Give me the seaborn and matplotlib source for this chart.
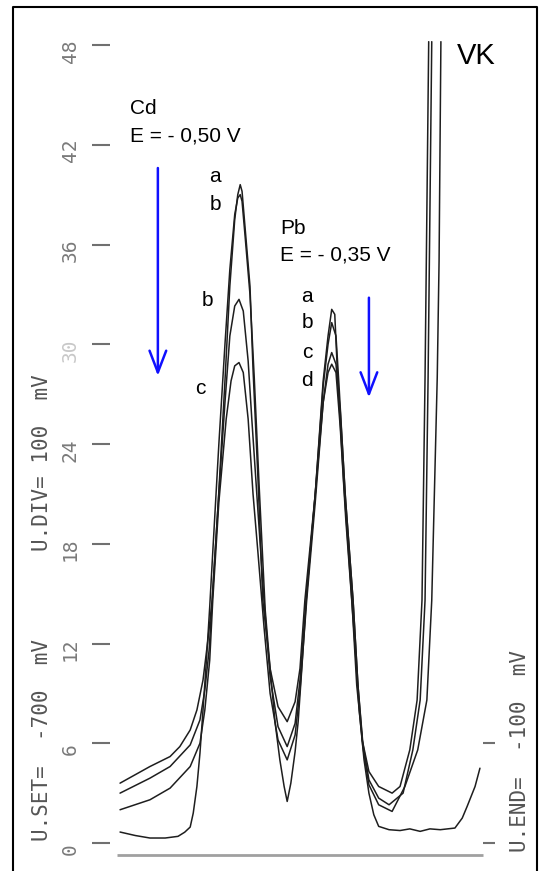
import matplotlib
matplotlib.use("Agg")
import matplotlib.pyplot as plt
from matplotlib.lines import Line2D
import pandas as pd
import seaborn as sns

sns.set_theme(style="white")
plt.rcParams["font.family"] = ["Liberation Sans", "DejaVu Sans"]

# potential in mV, current in scale divisions
curve_a_e = [-695, -646, -613, -597, -580, -569, -559, -551, -544, -534, -523, -515, -507, -502,
             -498, -495, -490, -482, -477, -469, -461, -449, -436, -421, -408, -400, -392, -375,
             -362, -354, -348, -343, -338, -328, -315, -307, -298, -287, -271, -249, -236, -220,
             -208, -200, -195, -192, -189]
curve_a_i = [3.6, 4.6, 5.2, 5.8, 6.8, 8.0, 9.8, 12.2, 14.6, 20.5, 27.8, 33.5, 37.5, 39.0,
             39.6, 39.2, 37.0, 33.5, 28.5, 22.0, 14.6, 10.5, 8.2, 7.3, 8.5, 10.5, 14.6, 21.0,
             27.8, 30.5, 32.1, 31.8, 27.8, 21.5, 14.6, 9.5, 6.2, 4.3, 3.4, 3.0, 3.4, 5.6,
             8.6, 14.6, 28.0, 38.0, 48.2]

curve_b_e = [-695, -646, -613, -580, -564, -556, -549, -544, -534, -523, -515, -507, -500, -493,
             -485, -479, -469, -459, -449, -436, -421, -408, -400, -390, -375, -362, -354, -348,
             -341, -336, -326, -313, -305, -297, -287, -271, -254, -231, -215, -203, -195, -190,
             -187, -184]
curve_b_i = [3.0, 3.9, 4.6, 5.9, 7.4, 9.2, 11.6, 14.6, 20.5, 26.5, 30.5, 32.3, 32.7, 32.0,
             29.0, 25.5, 20.0, 14.6, 10.0, 7.0, 5.8, 7.2, 9.8, 14.6, 21.0, 27.5, 30.0, 31.3,
             30.5, 27.5, 21.0, 14.6, 9.5, 6.0, 3.8, 2.7, 2.3, 3.0, 5.6, 8.6, 14.6, 28.0,
             38.0, 48.2]

curve_c_e = [-695, -646, -613, -580, -564, -556, -548, -543, -533, -521, -513, -507, -500, -493,
             -485, -477, -469, -459, -449, -436, -421, -408, -400, -389, -375, -362, -354, -348,
             -341, -334, -325, -313, -305, -297, -287, -271, -249, -228, -207, -192, -184, -175,
             -172, -169]
curve_c_i = [2.0, 2.6, 3.3, 4.6, 6.0, 8.0, 11.0, 14.6, 20.5, 25.5, 27.8, 28.7, 28.9, 28.3,
             25.5, 21.0, 17.5, 13.0, 9.0, 6.2, 5.0, 6.5, 9.2, 14.6, 20.5, 26.5, 28.8, 29.5,
             28.8, 26.0, 20.5, 14.6, 9.5, 5.8, 3.5, 2.3, 1.9, 3.4, 5.6, 8.6, 14.6, 28.0,
             35.0, 48.2]

curve_d_e = [-695, -670, -646, -621, -600, -589, -580, -575, -569, -564, -559, -553, -548, -543,
             -533, -523, -515, -507, -502, -498, -495, -490, -482, -475, -467, -457, -449, -441,
             -433, -426, -421, -415, -408, -403, -397, -389, -375, -362, -354, -348, -341, -334,
             -325, -311, -303, -295, -287, -279, -271, -254, -236, -220, -203, -187, -170, -146,
             -134, -126, -113, -105]
curve_d_i = [0.66, 0.45, 0.3, 0.3, 0.4, 0.65, 0.96, 1.8, 3.4, 5.4, 8.0, 11.2, 14.2, 17.5,
             24.0, 30.0, 34.5, 37.8, 38.8, 39.0, 38.6, 36.5, 33.0, 28.0, 21.5, 14.0, 10.5, 7.3,
             5.0, 3.4, 2.5, 3.6, 5.5, 7.3, 10.5, 15.0, 21.0, 26.5, 28.3, 28.8, 28.3, 25.0,
             19.5, 12.5, 8.0, 5.0, 3.0, 1.7, 1.0, 0.8, 0.75, 0.85, 0.7, 0.85, 0.8, 0.9,
             1.5, 2.2, 3.4, 4.5]

y_ticks = [0, 6, 12, 18, 24, 30, 36, 42, 48]
right_ticks = [0, 6]

frames = []
for name, e, i in [("a", curve_a_e, curve_a_i), ("b", curve_b_e, curve_b_i),
                   ("c", curve_c_e, curve_c_i), ("d", curve_d_e, curve_d_i)]:
    frames.append(pd.DataFrame({"E": e, "I": i, "curve": name}))
df = pd.concat(frames, ignore_index=True)

W, H = 541, 871
fig = plt.figure(figsize=(W / 100, H / 100), dpi=100)
ax = fig.add_axes([0, 0, 1, 1])
ax.set_xlim(-891.8, -4.9)
ax.set_ylim(-1.684, 50.707)
ax.axis("off")


def px(x, y):
    return x / W, 1 - y / H


sns.lineplot(data=df, x="E", y="I", hue="curve", units="curve", estimator=None, sort=False,
             palette=["#1e1e1e"] * 4, linewidth=1.1, legend=False, ax=ax)

# frame (no bottom edge visible)
fig.add_artist(Line2D([13 / W, 13 / W, 537 / W, 537 / W],
                      [1 - 871 / H, 1 - 7 / H, 1 - 7 / H, 1 - 871 / H],
                      color="black", lw=1.5))

# base line
ax.hlines(-0.72, -700, -100, color="#a0a0a0", lw=2)

# left scale
for v in y_ticks:
    ax.hlines(v, -741, -711, color="#707070", lw=1.5)
    col = "#c8c8c8" if v == 30 else "#7a7a7a"
    ax.text(-777, v - 0.36, str(v), rotation=90, ha="center", va="center",
            family="DejaVu Sans Mono", fontsize=14, color=col)
for v in right_ticks:
    ax.hlines(v, -100, -80, color="#707070", lw=1.5)

mono = dict(family="DejaVu Sans Mono", fontsize=15, color="#555555",
            rotation=90, ha="center", va="center")
fig.text(*px(42, 740), "U.SET=  -700  mV", **mono)
fig.text(*px(42, 463), "U.DIV= 100  mV", **mono)
fig.text(*px(520, 751), "U.END=  -100  mV", **mono)

txt = dict(fontsize=15, color="black", va="center")
fig.text(*px(130, 108), "Cd", ha="left", **txt)
fig.text(*px(130, 136), "E = - 0,50 V", ha="left", **txt)
fig.text(*px(280, 228), "Pb", ha="left", **txt)
fig.text(*px(280, 255), "E = - 0,35 V", ha="left", **txt)
fig.text(*px(457, 56), "VK", ha="left", fontsize=21, color="black", va="center")

for lab, x, y in [("a", 215, 177), ("b", 215, 205), ("b", 207, 300), ("c", 200, 388),
                  ("a", 307, 297), ("b", 307, 323), ("c", 307, 353), ("d", 307, 380)]:
    fig.text(*px(x, y), lab, ha="center", **txt)

# blue arrows
arrow = dict(arrowstyle="->,head_length=1.3,head_width=0.5", color="#1010ff", lw=1.8,
             mutation_scale=12, shrinkA=0, shrinkB=0)
ax.annotate("", xy=(-633, 28.1), xytext=(-633, 40.6), arrowprops=arrow)
ax.annotate("", xy=(-287, 26.8), xytext=(-287, 32.8), arrowprops=arrow)

fig.savefig("out.png", dpi=100)
